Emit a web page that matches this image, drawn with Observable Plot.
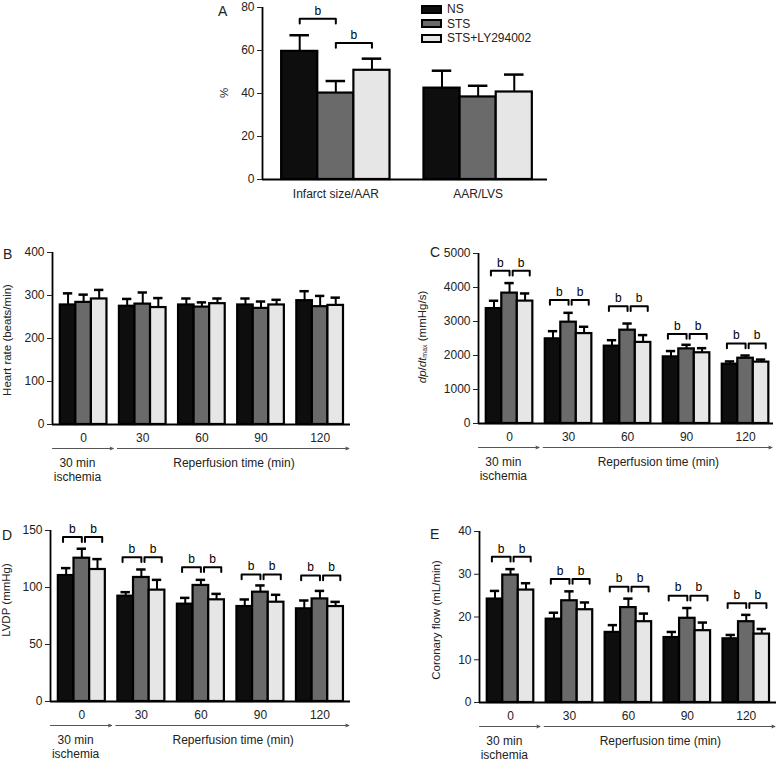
<!DOCTYPE html>
<html>
<head>
<meta charset="utf-8">
<script src="https://cdn.jsdelivr.net/npm/d3@7"></script>
<script src="https://cdn.jsdelivr.net/npm/@observablehq/plot@0.6"></script>
<style>
  html, body { margin: 0; padding: 0; background: #fff; }
  body { font-family: "Liberation Sans", Arial, sans-serif; color: #222; }
  #fig { position: relative; width: 781px; height: 763px; overflow: hidden; }
  .panel { position: absolute; }
  .letter { position: absolute; font-size: 14px; line-height: 1; color: #222; }
  .ylab { position: absolute; font-size: 11.5px; white-space: nowrap; color: #222; line-height: 1;
          transform: translate(-50%, -50%) rotate(-90deg); }
  .ylab sub { font-size: 7px; vertical-align: -1px; }
  .legend { position: absolute; font-size: 12px; color: #222; }
  .legend .row { display: flex; align-items: center; height: 14.5px; }
  .legend .sw { display: inline-block; width: 21px; height: 9px; box-sizing: border-box;
                border: 2px solid #000; margin-right: 5px; }
</style>
</head>
<body>
<div id="fig">
  <div class="panel" id="pA" style="left:200px;top:0px"></div>
  <div class="panel" id="pB" style="left:0px;top:240px"></div>
  <div class="panel" id="pC" style="left:390px;top:240px"></div>
  <div class="panel" id="pD" style="left:0px;top:515px"></div>
  <div class="panel" id="pE" style="left:390px;top:515px"></div>

  <div class="letter" style="left:218px;top:4px">A</div>
  <div class="letter" style="left:3px;top:247px">B</div>
  <div class="letter" style="left:430px;top:245px">C</div>
  <div class="letter" style="left:2px;top:528px">D</div>
  <div class="letter" style="left:430px;top:527px">E</div>

  <div class="ylab" style="left:225px;top:93px">%</div>
  <div class="ylab" style="left:8px;top:340px">Heart rate (beats/min)</div>
  <div class="ylab" style="left:423px;top:337px"><i>dp</i>/<i>dt</i><sub>max</sub> (mmHg/s)</div>
  <div class="ylab" style="left:7px;top:600px">LVDP (mmHg)</div>
  <div class="ylab" style="left:437px;top:620px">Coronary flow (mL/min)</div>

  <div class="legend" id="legend" style="left:421px;top:2px"></div>
</div>
<script>
// ---------------- data ----------------
const seriesNames = ["NS", "STS", "STS+LY294002"];
const groupLabels = ["0", "30", "60", "90", "120"];
const aCategories = ["Infarct size/AAR", "AAR/LVS"];

// Panel A (%): mean and error per series [NS, STS, STS+LY294002]
const aMean = [[59.6, 42.5], [40.2, 38.4], [50.8, 40.7]];
const aErr  = [[7.5, 8.1], [5.6, 5.2], [5.4, 8.1]];
const aBrackets = [{group: 0, pair: 0, y: 74.8}, {group: 0, pair: 1, y: 63.5}];

// Panel B: heart rate (beats/min)
const hrMean = [[278, 275, 278, 278, 288], [284, 280, 273, 270, 274], [292, 272, 281, 278, 277]];
const hrErr  = [[27, 17, 15, 15, 22], [18, 27, 11, 16, 25], [21, 22, 12, 12, 18]];

// Panel C: dp/dt max (mmHg/s)
const dpMean = [[3380, 2490, 2275, 1960, 1745], [3835, 2980, 2745, 2195, 1920], [3600, 2645, 2385, 2080, 1805]];
const dpErr  = [[230, 225, 175, 170, 80], [295, 275, 195, 120, 80], [225, 200, 215, 135, 75]];
const dpBracketY = [4490, 3630, 3450, 2630, 2350];

// Panel D: LVDP (mmHg)
const lvdpMean = [[110.5, 92.4, 85.4, 83.3, 81.3], [125.7, 108.8, 101.8, 95.9, 90.0], [115.8, 97.7, 89.2, 87.1, 83.3]];
const lvdpErr  = [[6.5, 3.5, 5.5, 6.2, 7.3], [8.3, 7.0, 4.9, 5.9, 7.0], [9.1, 9.0, 5.2, 6.5, 4.1]];
const lvdpBracketY = [144.2, 126.6, 117.8, 111.4, 110.5];

// Panel E: coronary flow (mL/min)
const cfMean = [[24.2, 19.5, 16.4, 15.2, 14.9], [29.8, 23.8, 22.2, 19.7, 18.9], [26.3, 21.7, 18.9, 16.8, 16.0]];
const cfErr  = [[1.9, 1.5, 1.7, 1.3, 0.9], [1.4, 2.2, 2.1, 2.4, 1.6], [1.6, 1.7, 1.9, 1.9, 1.2]];
const cfBracketY = [34.1, 28.9, 27.1, 25.0, 23.2];

const timelineLabels = ["30 min\nischemia", "Reperfusion time (min)"];

// ---------------- styling ----------------
const fills = ["#0e0e0e", "#6a6a6a", "#e6e6e6"];
const FONT = "'Liberation Sans', Arial, sans-serif";

function bothPairs(ys) {
  const out = [];
  ys.forEach((y, g) => { out.push({group: g, pair: 0, y}, {group: g, pair: 1, y}); });
  return out;
}

function drawPanel(o) {
  const step = 3 + o.gap;
  const rows = [];
  o.mean.forEach((arr, si) => arr.forEach((v, gi) => {
    rows.push({gi, si, s: seriesNames[si], x1: gi * step + si, v, e: v + o.err[si][gi]});
  }));
  const xMin = -o.padL;
  const xMax = (o.cats.length - 1) * step + 3 + o.padR;
  const drop = o.yMax * 0.028;
  const br = [], bl = [];
  o.brackets.forEach((b, k) => {
    const [a, c] = o.pairX[b.pair];
    const xa = b.group * step + a, xc = b.group * step + c;
    br.push({id: k, x: xa, y: b.y - drop}, {id: k, x: xa, y: b.y}, {id: k, x: xc, y: b.y}, {id: k, x: xc, y: b.y - drop});
    bl.push({x: (xa + xc) / 2, y: b.y});
  });
  const centers = o.cats.map((_, gi) => gi * step + 1.5);
  const marks = [
    Plot.rect(rows, {x1: "x1", x2: d => d.x1 + 1, y1: 0, y2: "v", fill: "s", stroke: "#000", strokeWidth: 2.2}),
    Plot.ruleX(rows, {x: d => d.x1 + 0.5, y1: "v", y2: "e", stroke: "#000", strokeWidth: 2}),
    Plot.ruleY(rows, {x1: d => d.x1 + 0.5 - o.cap, x2: d => d.x1 + 0.5 + o.cap, y: "e", stroke: "#000", strokeWidth: 2.5}),
    Plot.line(br, {x: "x", y: "y", z: "id", stroke: "#000", strokeWidth: 2}),
    Plot.text(bl, {x: "x", y: "y", text: () => "b", dy: -8, fontSize: 12, fill: "#000"}),
    Plot.ruleX([xMin], {stroke: "#000", strokeWidth: 1.8}),
    Plot.ruleY([0], {stroke: "#000", strokeWidth: 1.8}),
    Plot.axisY({ticks: o.yTicks, tickSize: 5, tickPadding: 3, label: null, fontSize: 12, tickFormat: d => String(d)}),
    Plot.axisX({ticks: centers, tickFormat: d => o.cats[Math.round((d - 1.5) / step)], tickSize: 0,
                tickPadding: o.tickPad, label: null, fontSize: 12})
  ];
  if (o.timeline) {
    const g0end = 3 + 0.4;
    const g1start = step - 0.13;
    marks.push(
      Plot.arrow([{x1: xMin, x2: g0end}, {x1: g1start, x2: xMax - 0.1}],
        {x1: "x1", x2: "x2", y1: 0, y2: 0, dy: 24, stroke: "#555", strokeWidth: 1, headLength: 5, headAngle: 45}),
      Plot.text([{x: 1.1, t: timelineLabels[0]}, {x: (g1start + xMax) / 2, t: timelineLabels[1]}],
        {x: "x", y: 0, text: "t", dy: 33, lineAnchor: "top", fontSize: 12, lineHeight: 1.15, fill: "#222"})
    );
  }
  return Plot.plot({
    width: o.width, height: o.height,
    marginLeft: o.ml, marginRight: o.mr, marginTop: o.mt, marginBottom: o.mb,
    x: {domain: [xMin, xMax], axis: null},
    y: {domain: [0, o.yMax], axis: null},
    color: {domain: seriesNames, range: fills},
    style: {fontFamily: FONT, fontSize: "12px", color: "#222", background: "transparent", overflow: "visible"},
    marks
  });
}

const ccPairs = [[0.3, 1.5], [1.7, 2.8]];

document.getElementById("pA").appendChild(drawPanel({
  cats: aCategories, mean: aMean, err: aErr, brackets: aBrackets, pairX: [[0.5, 1.5], [1.5, 2.5]],
  yMax: 80, yTicks: [0, 20, 40, 60, 80], gap: 0.94, padL: 0.53, padR: 0.42, cap: 0.27, tickPad: 10,
  width: 360, height: 205, ml: 62, mr: 13, mt: 7, mb: 26, timeline: false
}));
document.getElementById("pB").appendChild(drawPanel({
  cats: groupLabels, mean: hrMean, err: hrErr, brackets: [], pairX: ccPairs,
  yMax: 400, yTicks: [0, 100, 200, 300, 400], gap: 0.8, padL: 0.5, padR: 0.45, cap: 0.3, tickPad: 9,
  width: 360, height: 245, ml: 52, mr: 10, mt: 12, mb: 61, timeline: true
}));
document.getElementById("pC").appendChild(drawPanel({
  cats: groupLabels, mean: dpMean, err: dpErr, brackets: bothPairs(dpBracketY), pairX: ccPairs,
  yMax: 5000, yTicks: [0, 1000, 2000, 3000, 4000, 5000], gap: 0.8, padL: 0.5, padR: 0.3, cap: 0.3, tickPad: 9,
  width: 391, height: 245, ml: 88, mr: 8, mt: 13, mb: 62, timeline: true
}));
document.getElementById("pD").appendChild(drawPanel({
  cats: groupLabels, mean: lvdpMean, err: lvdpErr, brackets: bothPairs(lvdpBracketY), pairX: ccPairs,
  yMax: 150, yTicks: [0, 50, 100, 150], gap: 0.8, padL: 0.5, padR: 0.45, cap: 0.3, tickPad: 9,
  width: 360, height: 248, ml: 50, mr: 10, mt: 15, mb: 62, timeline: true
}));
document.getElementById("pE").appendChild(drawPanel({
  cats: groupLabels, mean: cfMean, err: cfErr, brackets: bothPairs(cfBracketY), pairX: ccPairs,
  yMax: 40, yTicks: [0, 10, 20, 30, 40], gap: 0.8, padL: 0.5, padR: 0.45, cap: 0.3, tickPad: 9,
  width: 391, height: 248, ml: 89, mr: 5, mt: 16, mb: 61, timeline: true
}));

// legend
const leg = document.getElementById("legend");
seriesNames.forEach((name, i) => {
  const row = document.createElement("div");
  row.className = "row";
  const sw = document.createElement("span");
  sw.className = "sw";
  sw.style.background = fills[i];
  row.appendChild(sw);
  row.appendChild(document.createTextNode(name));
  leg.appendChild(row);
});
</script>
</body>
</html>
